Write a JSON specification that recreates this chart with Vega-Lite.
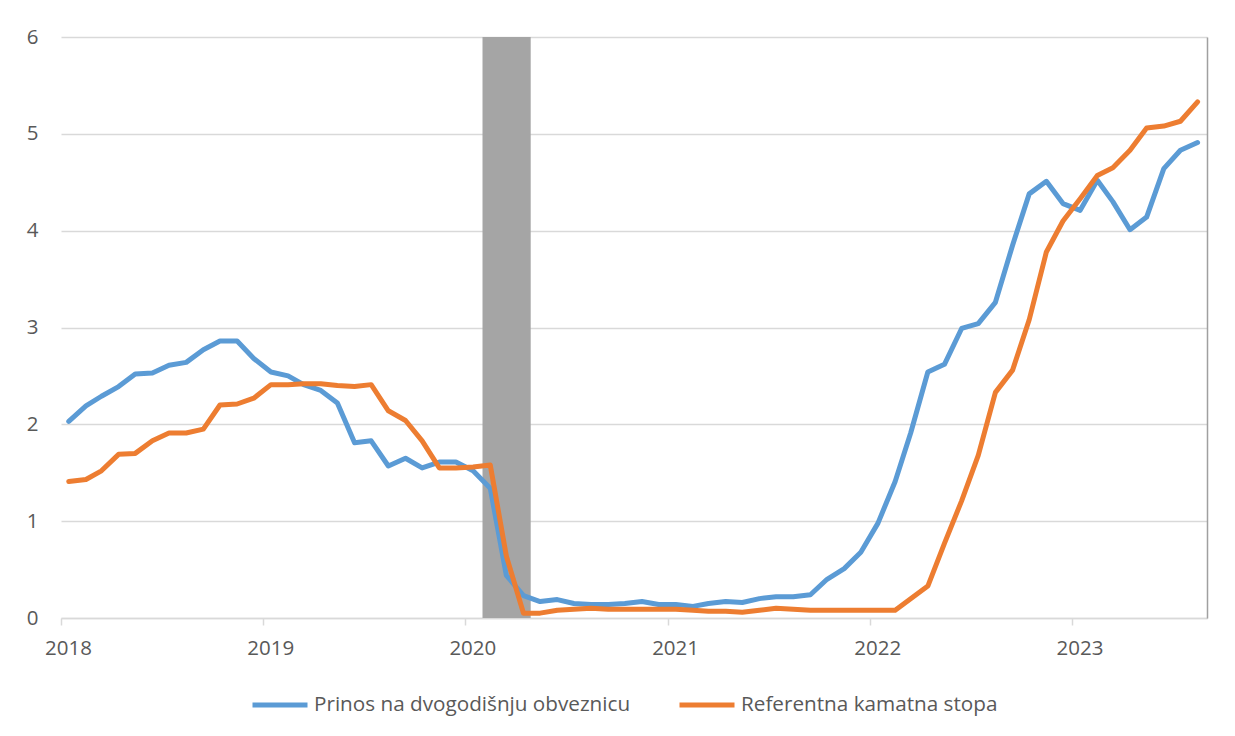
{
  "$schema": "https://vega.github.io/schema/vega-lite/v6.json",
  "width": 1146,
  "height": 581,
  "autosize": {"type": "none"},
  "padding": {"left": 61, "top": 37, "right": 28, "bottom": 118},
  "background": "white",
  "config": {
    "font": "Open Sans",
    "view": {"stroke": null}
  },
  "datasets": {
    "recession": [{"start": "2020/02/01", "end": "2020/04/28"}],
    "series": [
      {"date": "2018/01/15", "series": "Prinos na dvogodišnju obveznicu", "value": 2.03},
      {"date": "2018/02/15", "series": "Prinos na dvogodišnju obveznicu", "value": 2.19},
      {"date": "2018/03/15", "series": "Prinos na dvogodišnju obveznicu", "value": 2.29},
      {"date": "2018/04/15", "series": "Prinos na dvogodišnju obveznicu", "value": 2.39},
      {"date": "2018/05/15", "series": "Prinos na dvogodišnju obveznicu", "value": 2.52},
      {"date": "2018/06/15", "series": "Prinos na dvogodišnju obveznicu", "value": 2.53},
      {"date": "2018/07/15", "series": "Prinos na dvogodišnju obveznicu", "value": 2.61},
      {"date": "2018/08/15", "series": "Prinos na dvogodišnju obveznicu", "value": 2.64},
      {"date": "2018/09/15", "series": "Prinos na dvogodišnju obveznicu", "value": 2.77},
      {"date": "2018/10/15", "series": "Prinos na dvogodišnju obveznicu", "value": 2.86},
      {"date": "2018/11/15", "series": "Prinos na dvogodišnju obveznicu", "value": 2.86},
      {"date": "2018/12/15", "series": "Prinos na dvogodišnju obveznicu", "value": 2.68},
      {"date": "2019/01/15", "series": "Prinos na dvogodišnju obveznicu", "value": 2.54},
      {"date": "2019/02/15", "series": "Prinos na dvogodišnju obveznicu", "value": 2.50},
      {"date": "2019/03/15", "series": "Prinos na dvogodišnju obveznicu", "value": 2.41},
      {"date": "2019/04/15", "series": "Prinos na dvogodišnju obveznicu", "value": 2.35},
      {"date": "2019/05/15", "series": "Prinos na dvogodišnju obveznicu", "value": 2.22},
      {"date": "2019/06/15", "series": "Prinos na dvogodišnju obveznicu", "value": 1.81},
      {"date": "2019/07/15", "series": "Prinos na dvogodišnju obveznicu", "value": 1.83},
      {"date": "2019/08/15", "series": "Prinos na dvogodišnju obveznicu", "value": 1.57},
      {"date": "2019/09/15", "series": "Prinos na dvogodišnju obveznicu", "value": 1.65},
      {"date": "2019/10/15", "series": "Prinos na dvogodišnju obveznicu", "value": 1.55},
      {"date": "2019/11/15", "series": "Prinos na dvogodišnju obveznicu", "value": 1.61},
      {"date": "2019/12/15", "series": "Prinos na dvogodišnju obveznicu", "value": 1.61},
      {"date": "2020/01/15", "series": "Prinos na dvogodišnju obveznicu", "value": 1.52},
      {"date": "2020/02/15", "series": "Prinos na dvogodišnju obveznicu", "value": 1.34},
      {"date": "2020/03/15", "series": "Prinos na dvogodišnju obveznicu", "value": 0.44},
      {"date": "2020/04/15", "series": "Prinos na dvogodišnju obveznicu", "value": 0.23},
      {"date": "2020/05/15", "series": "Prinos na dvogodišnju obveznicu", "value": 0.17},
      {"date": "2020/06/15", "series": "Prinos na dvogodišnju obveznicu", "value": 0.19},
      {"date": "2020/07/15", "series": "Prinos na dvogodišnju obveznicu", "value": 0.15},
      {"date": "2020/08/15", "series": "Prinos na dvogodišnju obveznicu", "value": 0.14},
      {"date": "2020/09/15", "series": "Prinos na dvogodišnju obveznicu", "value": 0.14},
      {"date": "2020/10/15", "series": "Prinos na dvogodišnju obveznicu", "value": 0.15},
      {"date": "2020/11/15", "series": "Prinos na dvogodišnju obveznicu", "value": 0.17},
      {"date": "2020/12/15", "series": "Prinos na dvogodišnju obveznicu", "value": 0.14},
      {"date": "2021/01/15", "series": "Prinos na dvogodišnju obveznicu", "value": 0.14},
      {"date": "2021/02/15", "series": "Prinos na dvogodišnju obveznicu", "value": 0.12},
      {"date": "2021/03/15", "series": "Prinos na dvogodišnju obveznicu", "value": 0.15},
      {"date": "2021/04/15", "series": "Prinos na dvogodišnju obveznicu", "value": 0.17},
      {"date": "2021/05/15", "series": "Prinos na dvogodišnju obveznicu", "value": 0.16},
      {"date": "2021/06/15", "series": "Prinos na dvogodišnju obveznicu", "value": 0.20},
      {"date": "2021/07/15", "series": "Prinos na dvogodišnju obveznicu", "value": 0.22},
      {"date": "2021/08/15", "series": "Prinos na dvogodišnju obveznicu", "value": 0.22},
      {"date": "2021/09/15", "series": "Prinos na dvogodišnju obveznicu", "value": 0.24},
      {"date": "2021/10/15", "series": "Prinos na dvogodišnju obveznicu", "value": 0.40},
      {"date": "2021/11/15", "series": "Prinos na dvogodišnju obveznicu", "value": 0.51},
      {"date": "2021/12/15", "series": "Prinos na dvogodišnju obveznicu", "value": 0.68},
      {"date": "2022/01/15", "series": "Prinos na dvogodišnju obveznicu", "value": 0.98},
      {"date": "2022/02/15", "series": "Prinos na dvogodišnju obveznicu", "value": 1.41},
      {"date": "2022/03/15", "series": "Prinos na dvogodišnju obveznicu", "value": 1.91},
      {"date": "2022/04/15", "series": "Prinos na dvogodišnju obveznicu", "value": 2.54},
      {"date": "2022/05/15", "series": "Prinos na dvogodišnju obveznicu", "value": 2.62},
      {"date": "2022/06/15", "series": "Prinos na dvogodišnju obveznicu", "value": 2.99},
      {"date": "2022/07/15", "series": "Prinos na dvogodišnju obveznicu", "value": 3.04},
      {"date": "2022/08/15", "series": "Prinos na dvogodišnju obveznicu", "value": 3.26},
      {"date": "2022/09/15", "series": "Prinos na dvogodišnju obveznicu", "value": 3.85},
      {"date": "2022/10/15", "series": "Prinos na dvogodišnju obveznicu", "value": 4.38},
      {"date": "2022/11/15", "series": "Prinos na dvogodišnju obveznicu", "value": 4.51},
      {"date": "2022/12/15", "series": "Prinos na dvogodišnju obveznicu", "value": 4.28},
      {"date": "2023/01/15", "series": "Prinos na dvogodišnju obveznicu", "value": 4.21},
      {"date": "2023/02/15", "series": "Prinos na dvogodišnju obveznicu", "value": 4.52},
      {"date": "2023/03/15", "series": "Prinos na dvogodišnju obveznicu", "value": 4.30},
      {"date": "2023/04/15", "series": "Prinos na dvogodišnju obveznicu", "value": 4.01},
      {"date": "2023/05/15", "series": "Prinos na dvogodišnju obveznicu", "value": 4.14},
      {"date": "2023/06/15", "series": "Prinos na dvogodišnju obveznicu", "value": 4.64},
      {"date": "2023/07/15", "series": "Prinos na dvogodišnju obveznicu", "value": 4.83},
      {"date": "2023/08/15", "series": "Prinos na dvogodišnju obveznicu", "value": 4.91},
      {"date": "2018/01/15", "series": "Referentna kamatna stopa", "value": 1.41},
      {"date": "2018/02/15", "series": "Referentna kamatna stopa", "value": 1.43},
      {"date": "2018/03/15", "series": "Referentna kamatna stopa", "value": 1.52},
      {"date": "2018/04/15", "series": "Referentna kamatna stopa", "value": 1.69},
      {"date": "2018/05/15", "series": "Referentna kamatna stopa", "value": 1.70},
      {"date": "2018/06/15", "series": "Referentna kamatna stopa", "value": 1.83},
      {"date": "2018/07/15", "series": "Referentna kamatna stopa", "value": 1.91},
      {"date": "2018/08/15", "series": "Referentna kamatna stopa", "value": 1.91},
      {"date": "2018/09/15", "series": "Referentna kamatna stopa", "value": 1.95},
      {"date": "2018/10/15", "series": "Referentna kamatna stopa", "value": 2.20},
      {"date": "2018/11/15", "series": "Referentna kamatna stopa", "value": 2.21},
      {"date": "2018/12/15", "series": "Referentna kamatna stopa", "value": 2.27},
      {"date": "2019/01/15", "series": "Referentna kamatna stopa", "value": 2.41},
      {"date": "2019/02/15", "series": "Referentna kamatna stopa", "value": 2.41},
      {"date": "2019/03/15", "series": "Referentna kamatna stopa", "value": 2.42},
      {"date": "2019/04/15", "series": "Referentna kamatna stopa", "value": 2.42},
      {"date": "2019/05/15", "series": "Referentna kamatna stopa", "value": 2.40},
      {"date": "2019/06/15", "series": "Referentna kamatna stopa", "value": 2.39},
      {"date": "2019/07/15", "series": "Referentna kamatna stopa", "value": 2.41},
      {"date": "2019/08/15", "series": "Referentna kamatna stopa", "value": 2.14},
      {"date": "2019/09/15", "series": "Referentna kamatna stopa", "value": 2.04},
      {"date": "2019/10/15", "series": "Referentna kamatna stopa", "value": 1.83},
      {"date": "2019/11/15", "series": "Referentna kamatna stopa", "value": 1.55},
      {"date": "2019/12/15", "series": "Referentna kamatna stopa", "value": 1.55},
      {"date": "2020/01/15", "series": "Referentna kamatna stopa", "value": 1.56},
      {"date": "2020/02/15", "series": "Referentna kamatna stopa", "value": 1.58},
      {"date": "2020/03/15", "series": "Referentna kamatna stopa", "value": 0.64},
      {"date": "2020/04/15", "series": "Referentna kamatna stopa", "value": 0.05},
      {"date": "2020/05/15", "series": "Referentna kamatna stopa", "value": 0.05},
      {"date": "2020/06/15", "series": "Referentna kamatna stopa", "value": 0.08},
      {"date": "2020/07/15", "series": "Referentna kamatna stopa", "value": 0.09},
      {"date": "2020/08/15", "series": "Referentna kamatna stopa", "value": 0.10},
      {"date": "2020/09/15", "series": "Referentna kamatna stopa", "value": 0.09},
      {"date": "2020/10/15", "series": "Referentna kamatna stopa", "value": 0.09},
      {"date": "2020/11/15", "series": "Referentna kamatna stopa", "value": 0.09},
      {"date": "2020/12/15", "series": "Referentna kamatna stopa", "value": 0.09},
      {"date": "2021/01/15", "series": "Referentna kamatna stopa", "value": 0.09},
      {"date": "2021/02/15", "series": "Referentna kamatna stopa", "value": 0.08},
      {"date": "2021/03/15", "series": "Referentna kamatna stopa", "value": 0.07},
      {"date": "2021/04/15", "series": "Referentna kamatna stopa", "value": 0.07},
      {"date": "2021/05/15", "series": "Referentna kamatna stopa", "value": 0.06},
      {"date": "2021/06/15", "series": "Referentna kamatna stopa", "value": 0.08},
      {"date": "2021/07/15", "series": "Referentna kamatna stopa", "value": 0.10},
      {"date": "2021/08/15", "series": "Referentna kamatna stopa", "value": 0.09},
      {"date": "2021/09/15", "series": "Referentna kamatna stopa", "value": 0.08},
      {"date": "2021/10/15", "series": "Referentna kamatna stopa", "value": 0.08},
      {"date": "2021/11/15", "series": "Referentna kamatna stopa", "value": 0.08},
      {"date": "2021/12/15", "series": "Referentna kamatna stopa", "value": 0.08},
      {"date": "2022/01/15", "series": "Referentna kamatna stopa", "value": 0.08},
      {"date": "2022/02/15", "series": "Referentna kamatna stopa", "value": 0.08},
      {"date": "2022/03/15", "series": "Referentna kamatna stopa", "value": 0.20},
      {"date": "2022/04/15", "series": "Referentna kamatna stopa", "value": 0.33},
      {"date": "2022/05/15", "series": "Referentna kamatna stopa", "value": 0.77},
      {"date": "2022/06/15", "series": "Referentna kamatna stopa", "value": 1.21},
      {"date": "2022/07/15", "series": "Referentna kamatna stopa", "value": 1.68},
      {"date": "2022/08/15", "series": "Referentna kamatna stopa", "value": 2.33},
      {"date": "2022/09/15", "series": "Referentna kamatna stopa", "value": 2.56},
      {"date": "2022/10/15", "series": "Referentna kamatna stopa", "value": 3.08},
      {"date": "2022/11/15", "series": "Referentna kamatna stopa", "value": 3.78},
      {"date": "2022/12/15", "series": "Referentna kamatna stopa", "value": 4.10},
      {"date": "2023/01/15", "series": "Referentna kamatna stopa", "value": 4.33},
      {"date": "2023/02/15", "series": "Referentna kamatna stopa", "value": 4.57},
      {"date": "2023/03/15", "series": "Referentna kamatna stopa", "value": 4.65},
      {"date": "2023/04/15", "series": "Referentna kamatna stopa", "value": 4.83},
      {"date": "2023/05/15", "series": "Referentna kamatna stopa", "value": 5.06},
      {"date": "2023/06/15", "series": "Referentna kamatna stopa", "value": 5.08},
      {"date": "2023/07/15", "series": "Referentna kamatna stopa", "value": 5.13},
      {"date": "2023/08/15", "series": "Referentna kamatna stopa", "value": 5.33}
    ]
  },
  "layer": [
    {
      "data": {"name": "recession"},
      "mark": {"type": "rect", "color": "#A5A5A5"},
      "encoding": {
        "x": {"field": "start", "type": "temporal", "scale": {"domain": [{"year": 2018, "month": 1, "date": 1}, {"year": 2023, "month": 9, "date": 1}]}},
        "x2": {"field": "end"},
        "y": {"datum": 0, "type": "quantitative", "scale": {"domain": [0, 6], "nice": false},
              "axis": {"orient": "right", "labels": false, "ticks": false, "grid": false, "title": null, "domainColor": "#A0A0A0", "domainWidth": 1.5}},
        "y2": {"datum": 6}
      }
    },
    {
      "data": {"name": "series"},
      "mark": {"type": "line", "strokeWidth": 5, "strokeCap": "round", "strokeJoin": "round"},
      "encoding": {
        "x": {"field": "date", "type": "temporal",
              "scale": {"domain": [{"year": 2018, "month": 1, "date": 1}, {"year": 2023, "month": 9, "date": 1}]},
              "axis": {"title": null, "format": "%Y", "values": [{"year": 2018, "month": 1, "date": 1}, {"year": 2019, "month": 1, "date": 1}, {"year": 2020, "month": 1, "date": 1}, {"year": 2021, "month": 1, "date": 1}, {"year": 2022, "month": 1, "date": 1}, {"year": 2023, "month": 1, "date": 1}],
                       "grid": false, "domainColor": "#D9D9D9", "domainWidth": 1.5, "tickColor": "#D9D9D9", "tickWidth": 1.5, "tickSize": 7, "labelPadding": 13, "labelOffset": 7, "labelFlush": false,
                       "labelFont": "Open Sans", "labelFontSize": 20.5, "labelColor": "#595959"}},
        "y": {"field": "value", "type": "quantitative", "scale": {"domain": [0, 6], "nice": false},
              "axis": {"title": null, "values": [0, 1, 2, 3, 4, 5, 6], "grid": true, "gridColor": "#D9D9D9", "gridWidth": 1.5, "domain": false, "ticks": false, "labelPadding": 23,
                       "labelFont": "Open Sans", "labelFontSize": 20.5, "labelColor": "#595959"}},
        "color": {"field": "series", "type": "nominal",
                  "scale": {"domain": ["Prinos na dvogodišnju obveznicu", "Referentna kamatna stopa"], "range": ["#5B9BD5", "#ED7D31"]},
                  "legend": {"title": null, "orient": "none", "legendX": 189, "legendY": 638, "direction": "horizontal", "symbolType": "stroke", "symbolStrokeWidth": 5, "symbolSize": 3025, "labelOffset": 4, "columnPadding": 38,
                             "labelFont": "Open Sans", "labelFontSize": 20.7, "labelColor": "#595959", "labelLimit": 500}}
      }
    }
  ],
  "resolve": {"scale": {"y": "independent"}, "axis": {"y": "independent"}}
}
